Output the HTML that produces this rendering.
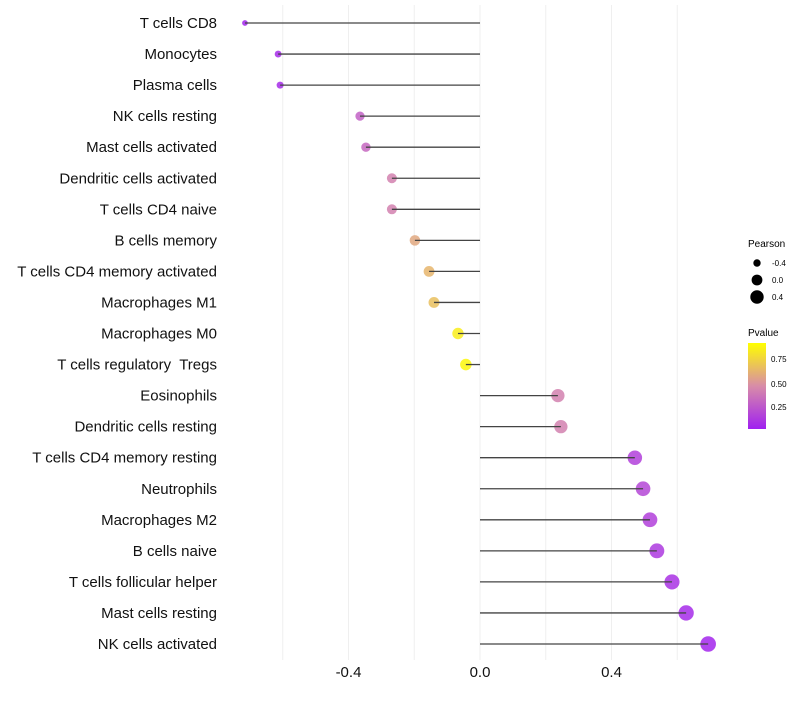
<!DOCTYPE html>
<html><head><meta charset="utf-8"><style>
body{margin:0;background:#fff;font-family:"Liberation Sans",sans-serif}
text{white-space:pre}
</style></head><body>
<svg id="chart" width="800" height="700" xmlns="http://www.w3.org/2000/svg" font-family="Liberation Sans, sans-serif">
<defs><linearGradient id="pg" x1="0" y1="1" x2="0" y2="0">
<stop offset="0" stop-color="#a020f0"/><stop offset="0.5" stop-color="#d88ca8"/><stop offset="1" stop-color="#ffff00"/></linearGradient></defs>
<g id="grid"></g><g id="marks"></g><g id="labels"></g>
<g>
<text x="748" y="247" font-size="10" fill="#000">Pearson</text>
<circle cx="757" cy="263" r="3.7" fill="#000"/><text x="772" y="266" font-size="8">-0.4</text>
<circle cx="757" cy="280" r="5.4" fill="#000"/><text x="772" y="283" font-size="8">0.0</text>
<circle cx="757" cy="297" r="6.7" fill="#000"/><text x="772" y="300" font-size="8">0.4</text>
<text x="748" y="336" font-size="10">Pvalue</text>
<rect x="748" y="343" width="18" height="86" fill="url(#pg)"/>
<text x="771" y="362" font-size="8">0.75</text><text x="771" y="387" font-size="8">0.50</text><text x="771" y="410" font-size="8">0.25</text>
</g>
</svg>
<script>
const categories=["T cells CD8","Monocytes","Plasma cells","NK cells resting","Mast cells activated","Dendritic cells activated","T cells CD4 naive","B cells memory","T cells CD4 memory activated","Macrophages M1","Macrophages M0","T cells regulatory  Tregs","Eosinophils","Dendritic cells resting","T cells CD4 memory resting","Neutrophils","Macrophages M2","B cells naive","T cells follicular helper","Mast cells resting","NK cells activated"];
const pearson=[-0.715,-0.614,-0.608,-0.365,-0.347,-0.268,-0.268,-0.198,-0.155,-0.14,-0.067,-0.043,0.237,0.246,0.471,0.496,0.517,0.538,0.584,0.627,0.694];
const pvalues=[0.02,0.05,0.05,0.3,0.33,0.45,0.45,0.62,0.68,0.72,0.92,0.97,0.45,0.45,0.15,0.18,0.15,0.12,0.08,0.05,0.03];
const ticks=[-0.4,0,0.4];
const gridVals=[-0.6,-0.4,-0.2,0,0.2,0.4,0.6];
const NS="http://www.w3.org/2000/svg";
const x=v=>480+v*328.75;
const y=i=>23+i*31.05;
const r=v=>Math.sqrt(Math.max(140+150*v,12))/2;
function col(p){const a=[160,32,240],m=[216,140,168],b=[255,255,0];let c0,c1,t;if(p<0.5){c0=a;c1=m;t=p/0.5}else{c0=m;c1=b;t=(p-0.5)/0.5}return "rgb("+c0.map((c,k)=>Math.round(c+(c1[k]-c)*t)).join(",")+")";}
function mk(t,at,par){const e=document.createElementNS(NS,t);for(const k in at)e.setAttribute(k,at[k]);document.getElementById(par).appendChild(e);return e;}
gridVals.forEach(v=>{const g=mk("line",{x1:x(v),x2:x(v),y1:5,y2:660,stroke:"#efefef","stroke-width":1},"grid");

});
categories.forEach((c,i)=>{
const t=mk("text",{x:217,y:y(i)+5,"text-anchor":"end","font-size":15,fill:"#111"},"labels");t.textContent=c;


const d=mk("circle",{cx:x(pearson[i]),cy:y(i),r:r(pearson[i]),fill:col(pvalues[i]),"fill-opacity":0.85},"marks");


const s=mk("line",{x1:x(0),x2:x(pearson[i]),y1:y(i),y2:y(i),stroke:"#444","stroke-width":1.3},"marks");

});
ticks.forEach(v=>{const t=mk("text",{x:x(v),y:677,"text-anchor":"middle","font-size":15,fill:"#111"},"labels");t.textContent=v.toFixed(1);

});
</script>
</body></html>
